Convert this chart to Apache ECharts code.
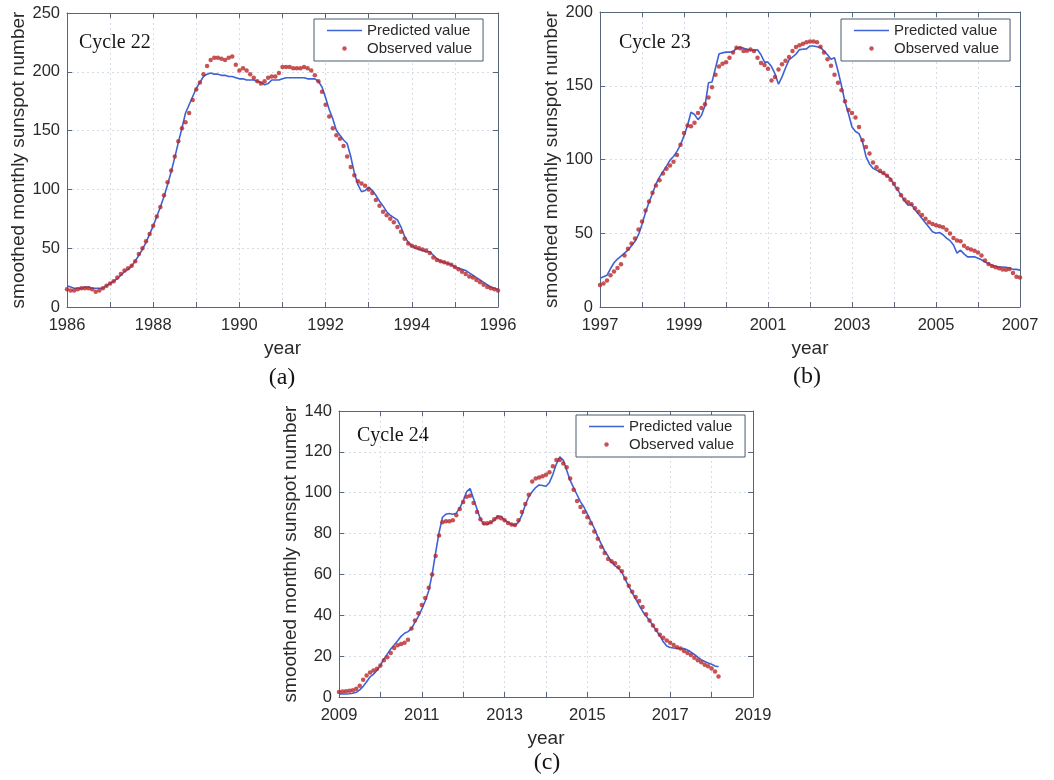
<!DOCTYPE html>
<html>
<head>
<meta charset="utf-8">
<script src="https://cdn.jsdelivr.net/npm/echarts@6/dist/echarts.min.js"></script>
<style>
html,body{margin:0;padding:0;background:#ffffff;}
#chart{width:1054px;height:780px;}
</style>
</head>
<body>
<div id="chart"></div>
<script>
// ---------------- DATA (monthly smoothed sunspot numbers, first value = January of start year) ----------------
const cycle22Start = 1986;
const cycle22Observed = [
  15,14,14,15,16,16,16,15,13,14,16,18,
  20,22,25,28,31,33,35,39,45,50,56,62,
  69,77,85,95,106,116,128,141,152,157,165,176,
  185,191,198,205,210,212,212,211,210,212,213,206,
  201,203,201,198,195,192,190,192,195,196,196,199,
  204,204,204,203,203,203,204,203,201,197,192,183,
  172,162,152,146,143,137,128,119,112,107,105,103,
  100,97,91,86,81,78,75,72,68,64,58,54,
  52,51,50,49,48,46,42,40,39,38,37,36,
  34,32,30,28,26,25,23,21,19,17,16,15,14
];
const cycle22Predicted = [
  18,17,16,16,16,17,17,16,16,16,16,18,
  20,22,24,27,30,32,35,39,44,49,55,62,
  69,77,85,94,104,115,127,140,152,165,172,179,
  186,191,196,198,199,198,198,197,197,196,196,195,
  194,194,193,193,193,192,191,189,190,193,193,193,
  194,195,195,195,195,195,195,194,194,194,192,187,
  178,168,160,150,146,142,139,128,114,104,98,99,
  102,99,95,90,86,81,78,76,74,68,60,55,
  52,50,49,48,47,47,44,41,39,38,37,36,
  34,33,32,31,29,27,25,23,21,19,17,16,15
];

const cycle23Start = 1997;
const cycle23Observed = [
  15,16,18,21.5,24,26.5,29,35,39.5,43,46.5,52.5,
  58,65.5,71.5,77.5,82.3,86,90.5,93.7,96,98.5,103,110,
  118,123,122.5,125,131.5,135,137.5,142,149,157.5,163,165,
  166,169,172.5,175.8,175.5,173.6,173.8,174.5,173.5,169,165.5,164,
  161.5,153.5,156,161,164.5,167,169.5,173.5,176.3,177.5,178.5,179.5,
  180,180,179.5,176.5,172.5,168,163.5,157.5,152,147,139.5,133.5,
  131.5,128.5,122,113,108.5,104,98,94.7,92.3,90.8,89,86.3,
  83.5,80.2,75.8,72.8,71,69.6,67,64.6,62.3,59.8,57.4,56.3,
  55.5,54.8,54,52.3,49.9,46.8,45.1,44.5,41.5,39.8,38.9,38.1,
  37,35,31.6,29.2,27.8,27,26.3,25.5,25.2,25.8,23,20.5,20
];
const cycle23Predicted = [
  19.5,20.5,21.5,26,30,32.5,34.5,36.5,38.5,41.5,44.5,49,
  56,64,71,77,83.5,88,91.8,95.5,99.6,102,105.5,110,
  116,123,132,130.5,127,130,136.5,152,152.5,162,171.5,172.3,
  172.8,172.8,173,175.5,176,175.5,174.7,174.2,174,174.4,171,166,
  166,163,158,151,156,162,167.5,169.5,171.5,174.5,174.8,175,
  177,177,176.5,176,173.5,171,168,169,160,150,139,131,
  122,119,117.5,112,102,97,94,92.8,91.5,90.5,89,87,
  83,79.5,76,72,69,69.5,66,63,60,57,54,51,
  50,50.5,49,46.7,45,42,36.5,38.5,36,34,34,34,
  33,32,30.5,29.5,28.2,27.6,27.1,27.1,27,26.5,25.5,25.5,25
];

const cycle24Start = 2009;
const cycle24Observed = [
  2.5,2.7,2.8,3,3.3,4,5.5,8.5,10.5,12,13,13.8,
  15.4,18,19.5,21.5,24,25.3,26,26.6,28,33.5,37.5,41,
  45,48.5,53.5,60,69,79,85.5,86,86,86.5,89,92,
  95.5,98,98.5,95,90.5,87,85,85,85.5,87,88,87.5,
  86.5,85.2,84.5,84.2,86.5,90.5,94.5,99,105.5,107,107.5,108,
  108.8,110,113,116,116,114.3,112.5,107,101.5,96,93,90.5,
  88,85,81,77.5,73.5,70.5,67.5,66.5,65.5,63.5,61.5,58,
  54.5,51.5,49,47,44,40.5,37.5,35,32.8,30.5,29,27.7,
  26.5,25.5,24.4,23.8,22.5,21.5,20.5,19.2,18,17,15.8,15,
  14,12.5,10
];
const cycle24Predicted = [
  1.5,1.5,1.5,1.6,1.8,2.3,3.5,5.2,7.5,9.8,11.2,13,
  15.5,18.5,21,23.5,25.5,27.5,29.7,31.2,32,33.5,36.5,39.5,
  43,47,52,60,70.5,80.5,88,89.5,89.8,89.5,90,92.5,
  96,100.5,102,97,92,87,84.5,84.5,85.5,86.5,88.5,88.5,
  86.5,85.5,84.5,84,85.5,89,94,98,100.5,102.5,103.8,103.5,
  103.2,105,109,114,117.5,116,111,106,102.5,99,95.5,93,
  89.5,86,82.6,78.5,75,71.5,69,66,64.2,63.2,61,57.5,
  54.2,51,48,44.8,42,39.6,37.5,35,32.5,30,27,25,
  24.2,24,23.8,23.7,23.7,23,22,20.8,19.5,18.3,17.4,16.6,
  16,15.2,14.8
];

// axis ranges / ticks
const cycle22XRange = [1986, 1996];
const cycle23XRange = [1997, 2007];
const cycle24XRange = [2009, 2019];
const cycle22YTicks = [0, 250, 50];
const cycle23YTicks = [0, 200, 50];
const cycle24YTicks = [0, 140, 20];

const seriesNames = ['Predicted value', 'Observed value'];
const cycleLabels = ['Cycle 22', 'Cycle 23', 'Cycle 24'];
const panelTags = ['(a)', '(b)', '(c)'];
const xAxisName = 'year';
const yAxisName = 'smoothed monthly sunspot number';

// ---------------- LAYOUT / STYLE ----------------
const panels = [
  {start: cycle22Start, obs: cycle22Observed, pred: cycle22Predicted, xr: cycle22XRange, yt: cycle22YTicks,
   grid: {left: 67, top: 13, width: 431, height: 294}, legend: {left: 314, top: 19}, yGap: 39,
   cycle: {x: 79, y: 45}, tag: {x: 282, y: 378}},
  {start: cycle23Start, obs: cycle23Observed, pred: cycle23Predicted, xr: cycle23XRange, yt: cycle23YTicks,
   grid: {left: 600, top: 12, width: 420, height: 295}, legend: {left: 841, top: 19}, yGap: 37,
   cycle: {x: 619, y: 45}, tag: {x: 807, y: 377}},
  {start: cycle24Start, obs: cycle24Observed, pred: cycle24Predicted, xr: cycle24XRange, yt: cycle24YTicks,
   grid: {left: 339, top: 411, width: 414, height: 286}, legend: {left: 576, top: 415}, yGap: 36,
   cycle: {x: 357, y: 438}, tag: {x: 547, y: 763}}
];

const AXIS_COLOR = '#56677d';
const LABEL_COLOR = '#2a2a2a';
const GRID_COLOR = '#d6dce4';
const BLUE = '#3d62d6';
const RED = '#b9282a';
const SANS = '"Liberation Sans", Arial, sans-serif';
const SERIF = '"Liberation Serif", "Times New Roman", serif';
const LINE_ICON = 'path://M0,0H35V1.6H0Z';

function toPairs(start, arr) {
  return arr.map((v, i) => [start + i / 12, v]);
}

const option = {
  animation: false,
  backgroundColor: '#ffffff',
  grid: [], xAxis: [], yAxis: [], series: [], legend: [], graphic: []
};

panels.forEach((p, k) => {
  option.grid.push(Object.assign({}, p.grid));
  const baseAxisLine = {show: true, onZero: false, lineStyle: {color: AXIS_COLOR, width: 1}};
  const tick = {show: true, inside: true, length: 5, lineStyle: {color: AXIS_COLOR}};
  option.xAxis.push({
    type: 'value', gridIndex: k, position: 'bottom', min: p.xr[0], max: p.xr[1], interval: 1,
    axisLine: baseAxisLine, axisTick: tick,
    axisLabel: {margin: 10, color: LABEL_COLOR, fontSize: 16.5, fontFamily: SANS,
      formatter: v => ((Math.round(v) - p.xr[0]) % 2 === 0 ? String(Math.round(v)) : '')},
    splitLine: {show: true, lineStyle: {color: GRID_COLOR, type: [2, 3], width: 1}},
    name: xAxisName, nameLocation: 'middle', nameGap: 32,
    nameTextStyle: {color: LABEL_COLOR, fontSize: 19, fontFamily: SANS}
  });
  option.xAxis.push({
    type: 'value', gridIndex: k, position: 'top', min: p.xr[0], max: p.xr[1], interval: 1,
    axisLine: baseAxisLine, axisTick: tick, axisLabel: {show: false}, splitLine: {show: false}
  });
  option.yAxis.push({
    type: 'value', gridIndex: k, position: 'left', min: p.yt[0], max: p.yt[1], interval: p.yt[2],
    axisLine: baseAxisLine, axisTick: tick,
    axisLabel: {margin: 7, color: LABEL_COLOR, fontSize: 16.5, fontFamily: SANS, formatter: v => String(v)},
    splitLine: {show: true, lineStyle: {color: GRID_COLOR, type: [2, 3], width: 1}},
    name: yAxisName, nameLocation: 'middle', nameGap: p.yGap, nameRotate: 90,
    nameTextStyle: {color: LABEL_COLOR, fontSize: 19, fontFamily: SANS}
  });
  option.yAxis.push({
    type: 'value', gridIndex: k, position: 'right', min: p.yt[0], max: p.yt[1], interval: p.yt[2],
    axisLine: baseAxisLine, axisTick: tick, axisLabel: {show: false}, splitLine: {show: false}
  });

  option.series.push({
    name: seriesNames[0], type: 'line', xAxisIndex: 2 * k, yAxisIndex: 2 * k,
    data: toPairs(p.start, p.pred), symbol: 'none', smooth: false,
    lineStyle: {color: BLUE, width: 1.6}, itemStyle: {color: BLUE}, z: 2
  });
  option.series.push({
    name: seriesNames[1], type: 'scatter', xAxisIndex: 2 * k, yAxisIndex: 2 * k,
    data: toPairs(p.start, p.obs), symbol: 'circle', symbolSize: 4.5,
    itemStyle: {color: RED}, z: 3
  });

  option.legend.push({
    data: [{name: seriesNames[0], icon: LINE_ICON}, {name: seriesNames[1], icon: 'circle'}],
    orient: 'vertical', align: 'left',
    left: p.legend.left, top: p.legend.top,
    padding: [4, 11, 5, 13], itemGap: 3, itemWidth: 35, itemHeight: 4.5,
    borderColor: '#4a5a6e', borderWidth: 1, backgroundColor: '#ffffff',
    textStyle: {color: LABEL_COLOR, fontSize: 15, fontFamily: SANS},
    selectedMode: false
  });

  option.graphic.push({
    type: 'text', left: p.cycle.x, top: p.cycle.y - 12,
    style: {text: cycleLabels[k], fill: '#151515', font: '20px ' + SERIF}
  });
  option.graphic.push({
    type: 'text', x: p.tag.x, y: p.tag.y,
    style: {text: panelTags[k], fill: '#151515', font: '24px ' + SERIF, textAlign: 'center', textVerticalAlign: 'middle'}
  });
});

const chart = echarts.init(document.getElementById('chart'), null, {renderer: 'canvas'});
chart.setOption(option);
</script>
</body>
</html>
